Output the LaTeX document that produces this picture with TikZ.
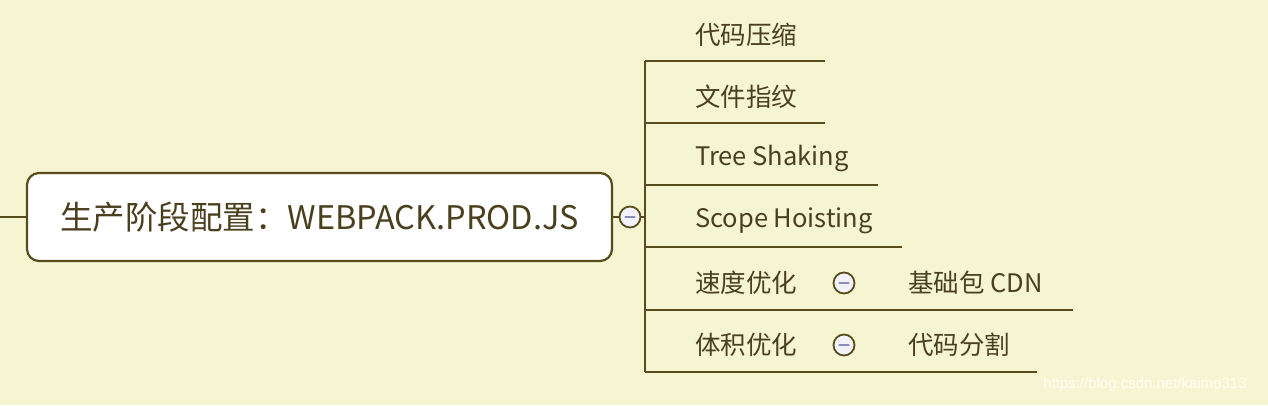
\documentclass[tikz,border=0pt]{standalone}
\usepackage{fontspec}
\setmainfont{Noto Sans CJK SC}
\newfontfamily\wmfont{Liberation Sans}
\definecolor{bgc}{RGB}{246,245,210}
\definecolor{linec}{RGB}{88,76,28}
\definecolor{textc}{RGB}{74,64,30}
\definecolor{cfill}{RGB}{242,242,248}
\definecolor{dashc}{RGB}{135,142,185}
\definecolor{wmc}{RGB}{253,253,245}
\begin{document}
\begin{tikzpicture}[x=1pt,y=-1pt,
  conn/.style={draw=linec, line width=2.2pt},
  mainbox/.style={draw=linec, line width=2.2pt, fill=white, rounded corners=12pt,
    minimum width=585pt, minimum height=88pt, inner sep=0pt,
    text=textc, font=\fontsize{32.5}{38}\selectfont},
  collapse/.style={circle, draw=linec, line width=1.8pt, fill=cfill,
    minimum size=21pt, inner sep=0pt,
    path picture={\draw[dashc, line width=2.2pt, line cap=round]
      ([xshift=-4.5pt]path picture bounding box.center) --
      ([xshift=4.5pt]path picture bounding box.center);}},
  item/.style={anchor=west, inner sep=0pt, text=textc,
    font=\fontsize{25.5}{30}\selectfont}
]
\fill[bgc] (0,0) rectangle (1268,405);
\useasboundingbox (0,0) rectangle (1268,405);

% root
\node[mainbox] (root) at (319.5,217) {生产阶段配置：WEBPACK.PROD.JS};
\coordinate (lft) at (0,217);
\draw[conn] (lft) -- (root.west);
\node[collapse] (c0) at (630,217) {};
\draw[conn] (root.east) -- (c0.west);
\coordinate (spine) at (645,217);
\draw[conn] (c0.east) -- (spine);

% vertical spine
\coordinate (top) at (645,61);
\coordinate (bot) at (645,372);
\draw[conn] (top) -- (bot);

% items
\node[item] (i1) at (695,35) {代码压缩};
\coordinate (u1s) at (645,61); \coordinate (u1e) at (825,61);
\draw[conn] (u1s) -- (u1e);

\node[item] (i2) at (695,97) {文件指纹};
\coordinate (u2s) at (645,123); \coordinate (u2e) at (825,123);
\draw[conn] (u2s) -- (u2e);

\node[item] (i3) at (695,159) {Tree Shaking};
\coordinate (u3s) at (645,185); \coordinate (u3e) at (878,185);
\draw[conn] (u3s) -- (u3e);

\node[item] (i4) at (695,221) {Scope Hoisting};
\coordinate (u4s) at (645,247); \coordinate (u4e) at (902,247);
\draw[conn] (u4s) -- (u4e);

\node[item] (i5) at (695,283) {速度优化};
\node[collapse] (c5) at (844,283) {};
\node[item] (k5) at (908,283) {基础包 CDN};
\coordinate (u5s) at (645,310); \coordinate (u5e) at (1073,310);
\draw[conn] (u5s) -- (u5e);

\node[item] (i6) at (695,345) {体积优化};
\node[collapse] (c6) at (844,345) {};
\node[item] (k6) at (908,345) {代码分割};
\coordinate (u6s) at (645,372); \coordinate (u6e) at (1037,372);
\draw[conn] (u6s) -- (u6e);

% watermark
\node[anchor=west, inner sep=0pt, text=wmc, font=\wmfont\fontsize{15}{18}\selectfont] (wm) at (1043,385) {https://blog.csdn.net/kaimo313};
\end{tikzpicture}
\end{document}
